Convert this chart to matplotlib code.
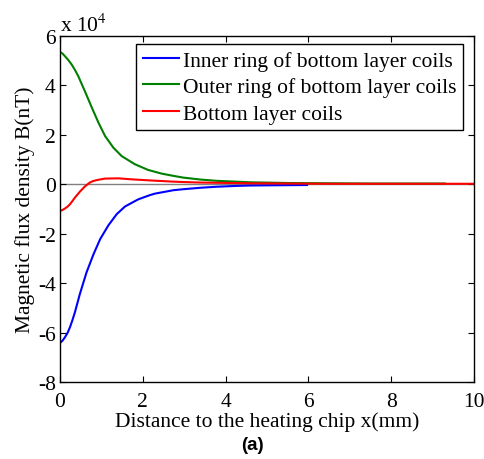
import numpy as np
import matplotlib
matplotlib.use("Agg")
import matplotlib.pyplot as plt

# field values in units of 1e4 nT, distance in mm
x_inner = [0, 0.06, 0.12, 0.18, 0.24, 0.30, 0.36, 0.48, 0.64, 0.81, 0.97, 1.17, 1.37, 1.57, 1.89,
           2.17, 2.29, 2.74, 2.98, 3.4, 3.78, 4.2, 4.59, 5.2, 5.97]
b_inner = [-6.42, -6.33, -6.19, -6.02, -5.79, -5.50, -5.18, -4.44, -3.57, -2.83, -2.22, -1.66,
           -1.21, -0.90, -0.61, -0.44, -0.38, -0.24, -0.20, -0.14, -0.10, -0.07, -0.05, -0.04, -0.03]

x_outer = [0, 0.06, 0.12, 0.20, 0.28, 0.36, 0.44, 0.60, 0.77, 0.93, 1.09, 1.29, 1.49, 1.81, 2.13,
           2.46, 2.74, 2.98, 3.4, 3.78, 4.2, 4.6, 5.55, 6.5, 7.5, 8.4, 9.3]
b_outer = [5.35, 5.29, 5.18, 5.03, 4.85, 4.63, 4.38, 3.77, 3.10, 2.49, 1.95, 1.48, 1.14, 0.81,
           0.58, 0.43, 0.34, 0.27, 0.19, 0.14, 0.11, 0.08, 0.05, 0.04, 0.03, 0.03, 0.03]

x_bottom = [0, 0.06, 0.12, 0.18, 0.24, 0.30, 0.36, 0.48, 0.60, 0.72, 0.80, 0.89, 1.09, 1.41, 1.73,
            2.13, 2.70, 2.98, 3.4, 3.78, 4.6, 5.5, 6.5, 8.0, 10.0]
b_bottom = [-1.08, -1.04, -0.98, -0.91, -0.81, -0.68, -0.54, -0.30, -0.09, 0.07, 0.13, 0.17,
            0.23, 0.24, 0.20, 0.16, 0.11, 0.09, 0.07, 0.06, 0.04, 0.03, 0.02, 0.02, 0.02]

labels = ["Inner ring of bottom layer coils",
          "Outer ring of bottom layer coils",
          "Bottom layer coils"]

plt.rcParams["font.family"] = ["Liberation Serif", "DejaVu Serif"]
plt.rcParams["mathtext.fontset"] = "stix"
plt.rcParams["axes.unicode_minus"] = False

fs = 15.5

fig = plt.figure(figsize=(4.85, 4.6), dpi=100)
ax = fig.add_axes([0.1237, 0.1674, 0.8533, 0.7522])

ax.axhline(0, color="#808080", lw=1.0, zorder=1)
ax.plot(x_inner, b_inner, color="#0000ff", lw=1.5, label=labels[0])
ax.plot(x_outer, b_outer, color="#008000", lw=1.5, label=labels[1])
ax.plot(x_bottom, b_bottom, color="#ff0000", lw=1.5, label=labels[2])

ax.set_xlim(0, 10)
ax.set_ylim(-8, 6)
ax.set_xticks(np.arange(0, 11, 2))
ax.set_yticks(np.arange(-8, 7, 2))
ax.tick_params(direction="in", top=True, right=True, length=4, width=0.8,
               labelsize=fs)
ax.tick_params(axis="x", pad=7.5)
ax.tick_params(axis="y", pad=3)
for s in ax.spines.values():
    s.set_linewidth(1.0)

ax.set_xlabel("Distance to the heating chip x(mm)", fontsize=fs, labelpad=0)
ax.set_ylabel("Magnetic flux density B(nT)", fontsize=fs, labelpad=2)
ax.text(0.0, 1.0145, r"x 10$^{4}$", transform=ax.transAxes, fontsize=fs,
        ha="left", va="baseline")

leg = ax.legend(loc="upper right", bbox_to_anchor=(0.9734, 0.9769), fontsize=fs,
                fancybox=False, framealpha=1, edgecolor="black",
                handlelength=1.67, handletextpad=0.2, borderpad=0.3,
                labelspacing=0.3, borderaxespad=0)
leg.get_frame().set_linewidth(1.0)

fig.text(0.52, 0.012, "(a)", fontsize=13.5, fontweight="bold",
         family="Liberation Sans", ha="center", va="bottom")

fig.savefig("out.png", dpi=100)
